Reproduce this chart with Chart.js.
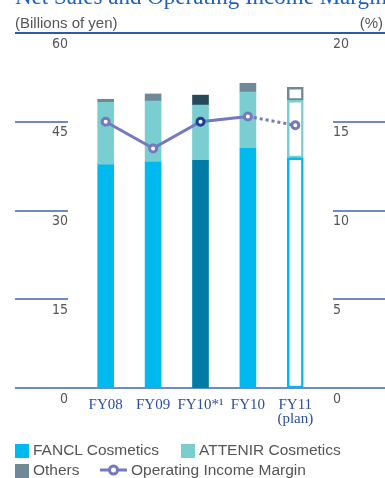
<!DOCTYPE html>
<html>
<head>
<meta charset="utf-8">
<script src="https://cdn.jsdelivr.net/npm/chart.js@4"></script>
<style>
  body { margin: 0; background: #fff; }
  #wrap { position: relative; width: 385px; height: 478px; overflow: hidden; }
  #grafico { position: absolute; left: 0; top: 0; }
  .txt { position: absolute; white-space: nowrap; color: #555; font-family: "Liberation Sans", Arial, sans-serif; }
  .title { left: 15px; top: -15px; font-family: "Liberation Serif", serif; font-size: 23px; line-height: 23px; color: #1f5fbf; }
  .sq { position: absolute; width: 14px; height: 14px; }
</style>
</head>
<body>
<div id="wrap">
  <canvas id="grafico" width="385" height="478"></canvas>
  <div class="txt title">Net Sales and Operating Income Margin</div>
  <div class="txt" style="left:15px; top:14px; font-size:15px;">(Billions of yen)</div>
  <div class="txt" style="right:2px; top:14px; font-size:15px;">(%)</div>

  <div class="sq" style="left:15px; top:444px; background:#00b9ef;"></div>
  <div class="txt" style="left:33px; top:441px; font-size:15.5px;">FANCL Cosmetics</div>
  <div class="sq" style="left:181px; top:444px; background:#7acdd0;"></div>
  <div class="txt" style="left:199px; top:441px; font-size:15.5px;">ATTENIR Cosmetics</div>
  <div class="sq" style="left:15px; top:464px; background:#6f8a96;"></div>
  <div class="txt" style="left:33px; top:461px; font-size:15.5px;">Others</div>
  <svg style="position:absolute; left:99px; top:463px;" width="30" height="14">
    <line x1="1" y1="7" x2="28" y2="7" stroke="#7479c0" stroke-width="3"/>
    <circle cx="14.5" cy="7" r="4" fill="#fff" stroke="#7479c0" stroke-width="3"/>
  </svg>
  <div class="txt" style="left:131px; top:461px; font-size:15.5px;">Operating Income Margin</div>
</div>
<script>
const categorias = [["FY08"], ["FY09"], ["FY10*¹"], ["FY10"], ["FY11", "(plan)"]];
const fancl = [37.7, 38.2, 38.5, 40.5, 38.9];
const attenir = [10.6, 10.3, 9.3, 9.5, 9.7];
const otros = [0.5, 1.2, 1.7, 1.5, 2.2];
const margen = [15.0, 13.5, 15.0, 15.3, 14.8];
const ticksIzq = [0, 15, 30, 45, 60];
const ticksDer = [0, 5, 10, 15, 20];

const PLAN = 4; // FY11 plan bar is drawn as outline
const ESPECIAL = 2; // FY10*1 bar uses darker colours

function colorBarra(normal, oscuro) {
  return function (c) {
    if (c.dataIndex === PLAN) return "#ffffff";
    return c.dataIndex === ESPECIAL ? oscuro : normal;
  };
}

// short grid segments outside the plot + top/bottom rules
const lineasGuia = {
  id: "lineasGuia",
  beforeDatasetsDraw(chart) {
    const g = chart.ctx;
    const y = chart.scales.y;
    g.save();
    ticksIzq.forEach(function (v) {
      const py = Math.round(y.getPixelForValue(v));
      g.beginPath();
      if (v === 60) {
        g.strokeStyle = "#2d5aa6"; g.lineWidth = 2;
        g.moveTo(15, py); g.lineTo(385, py);
      } else if (v === 0) {
        g.strokeStyle = "#6a8ccc"; g.lineWidth = 2;
        g.moveTo(15, py); g.lineTo(385, py);
      } else {
        g.strokeStyle = "#6d8acb"; g.lineWidth = 2;
        g.moveTo(15, py); g.lineTo(68, py);
        g.moveTo(333, py); g.lineTo(385, py);
      }
      g.stroke();
    });
    g.restore();
  }
};

const fuenteEje = { family: "'Liberation Sans Narrow', 'DejaVu Sans Condensed', sans-serif", size: 14 };

new Chart(document.getElementById("grafico"), {
  data: {
    labels: categorias,
    datasets: [
      {
        type: "line",
        label: "Operating Income Margin",
        data: margen,
        yAxisID: "y1",
        order: 0,
        borderColor: "#7479c0",
        borderWidth: 3,
        pointRadius: 3.5,
        pointBorderWidth: 3,
        pointBackgroundColor: "#ffffff",
        pointBorderColor: function (c) { return c.dataIndex === ESPECIAL ? "#1f3d99" : "#7479c0"; },
        segment: {
          borderDash: function (c) { return c.p1DataIndex === PLAN ? [3, 3] : undefined; }
        }
      },
      {
        type: "bar", label: "FANCL Cosmetics", data: fancl, yAxisID: "y", order: 1,
        backgroundColor: colorBarra("#00b9ef", "#007ba6"),
        borderColor: "#00b9ef"
      },
      {
        type: "bar", label: "ATTENIR Cosmetics", data: attenir, yAxisID: "y", order: 1,
        backgroundColor: colorBarra("#7acdd0", "#7acdd0"),
        borderColor: "#7acdd0"
      },
      {
        type: "bar", label: "Others", data: otros, yAxisID: "y", order: 1,
        backgroundColor: colorBarra("#6f8a96", "#26495a"),
        borderColor: "#6f8a96"
      }
    ]
  },
  options: {
    responsive: false,
    animation: false,
    layout: { padding: { top: 33, left: 0, right: 0, bottom: 0 } },
    datasets: {
      bar: {
        barThickness: 16,
        borderSkipped: false,
        borderWidth: function (c) { return c.dataIndex === PLAN ? 2.5 : 0; }
      }
    },
    plugins: { legend: { display: false }, tooltip: { enabled: false } },
    scales: {
      x: {
        stacked: true,
        grid: { display: false, drawTicks: false },
        border: { display: false },
        afterFit: function (s) { s.height = 90; },
        ticks: {
          color: "#2b4f9e",
          padding: 10,
          font: { family: "'Liberation Serif', serif", size: 15, lineHeight: 0.95 },
          maxRotation: 0,
          autoSkip: false
        }
      },
      y: {
        stacked: true,
        position: "left",
        min: 0, max: 60,
        afterFit: function (s) { s.width = 82; },
        afterBuildTicks: function (s) { s.ticks = ticksIzq.map(function (v) { return { value: v }; }); },
        grid: { display: false, drawTicks: false },
        border: { display: false },
        ticks: { color: "#555", padding: 14, labelOffset: 11, autoSkip: false, font: fuenteEje }
      },
      y1: {
        position: "right",
        min: 0, max: 20,
        afterFit: function (s) { s.width = 66; },
        afterBuildTicks: function (s) { s.ticks = ticksDer.map(function (v) { return { value: v }; }); },
        grid: { display: false, drawTicks: false },
        border: { display: false },
        ticks: { color: "#555", padding: 14, labelOffset: 11, autoSkip: false, font: fuenteEje }
      }
    }
  },
  plugins: [lineasGuia]
});
</script>
</body>
</html>
